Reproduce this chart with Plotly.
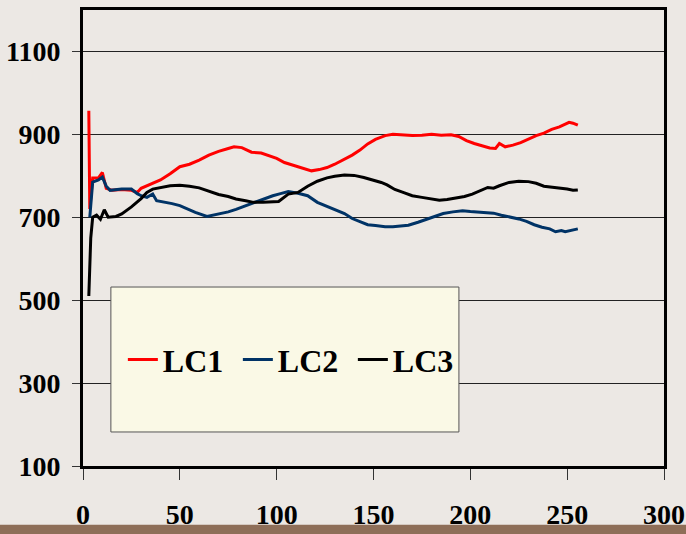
import plotly.graph_objects as go

# LC1 / LC2 / LC3 readings
lc1_x = [3, 3.5, 5, 8, 10, 12, 15, 20, 25, 28, 30, 35, 40, 45, 50, 55, 60, 65, 70, 75, 78, 82, 87, 92, 96, 100, 104, 108, 112, 118, 122, 126, 130, 135, 139, 143, 147, 151, 156, 160, 165, 170, 175, 180, 185, 190, 194, 198, 202, 206, 210, 213, 215, 218, 222, 226, 230, 234, 238, 242, 246, 249, 251, 253, 255.5]
lc1_y = [957, 720, 795, 795, 808, 770, 765, 767, 765, 760, 770, 780, 790, 805, 822, 828, 838, 850, 859, 866, 870, 868, 857, 855, 849, 842, 832, 826, 820, 812, 815, 820, 828, 840, 850, 862, 877, 888, 897, 900, 899, 897, 898, 900, 898, 899, 895, 885, 878, 872, 867, 866, 878, 870, 874, 880, 888, 897, 903, 912, 918, 925, 929, 927, 922]

lc2_x = [3.5, 5, 8, 10, 12, 14, 20, 25, 28, 30, 33, 36, 38, 42, 46, 50, 53, 58, 64, 70, 75, 79, 84, 88, 93, 98, 102, 106, 111, 116, 121, 126, 130, 135, 139, 143, 147, 151, 156, 160, 164, 168, 173, 178, 182, 186, 191, 196, 200, 204, 208, 212, 216, 220, 225, 229, 233, 237, 241, 244, 247, 249, 252, 255.5]
lc2_y = [700, 785, 790, 797, 775, 765, 768, 768, 757, 752, 748, 756, 740, 737, 733, 728, 722, 712, 702, 708, 713, 719, 728, 735, 744, 752, 757, 762, 758, 752, 736, 727, 719, 709, 697, 690, 682, 680, 677, 677, 679, 681, 688, 696, 704, 709, 713, 716, 714, 713, 712, 710, 705, 701, 696, 690, 682, 676, 672, 665, 668, 665, 669, 672]

lc3_x = [3, 4, 5, 7, 9, 11, 13, 17, 20, 25, 30, 33, 36, 40, 45, 50, 55, 60, 64, 70, 75, 79, 84, 88, 93, 97, 101, 106, 111, 116, 121, 126, 130, 135, 140, 145, 150, 154, 157, 161, 166, 170, 175, 180, 184, 188, 193, 197, 201, 205, 209, 212, 215, 220, 225, 230, 234, 238, 242, 246, 250, 253, 255.5]
lc3_y = [510, 650, 700, 705, 695, 718, 700, 702, 708, 725, 745, 760, 768, 772, 776, 777, 775, 771, 765, 755, 750, 744, 740, 736, 736, 737, 738, 756, 760, 775, 787, 795, 799, 802, 801, 796, 790, 784, 778, 767, 759, 752, 748, 744, 741, 743, 746, 750, 756, 764, 772, 770, 776, 784, 787, 786, 782, 775, 773, 770, 768, 765, 766]

y_ticks = [100, 300, 500, 700, 900, 1100]
x_ticks = [0, 50, 100, 150, 200, 250, 300]

BG = "#ECE8E4"
FONT = "Liberation Serif"

fig = go.Figure()
for name, xs, ys, col in [
    ("LC1", lc1_x, lc1_y, "#FF0000"),
    ("LC2", lc2_x, lc2_y, "#003366"),
    ("LC3", lc3_x, lc3_y, "#000000"),
]:
    fig.add_trace(go.Scatter(x=xs, y=ys, mode="lines", name=name,
                             line=dict(color=col, width=3)))

fig.update_layout(
    width=686, height=534,
    margin=dict(l=83, r=22, t=10, b=68, autoexpand=False),
    paper_bgcolor=BG, plot_bgcolor=BG,
    showlegend=True,
    legend=dict(
        orientation="h", x=0.0686, y=0.233, xanchor="left", yanchor="middle",
        bgcolor="rgba(0,0,0,0)", borderwidth=0,
        font=dict(family=FONT, size=32, color="black", weight="bold"),
        entrywidth=70, itemwidth=30,
    ),
    shapes=[
        # legend panel
        dict(type="rect", xref="paper", yref="paper",
             x0=0.048, x1=0.647, y0=0.0746, y1=0.3925,
             fillcolor="#FAF9E6", line=dict(color="#555555", width=1),
             layer="above"),
        # brown footer band
        dict(type="rect", xref="paper", yref="paper",
             x0=-0.2, x1=1.1, y0=-0.129, y1=-0.2,
             fillcolor="#8E6E58", line=dict(width=0), layer="below"),
    ],
)

fig.update_xaxes(
    range=[0, 300], tickvals=x_ticks, showgrid=False, zeroline=False,
    automargin=False,
    showline=True, linecolor="black", linewidth=3, mirror=True,
    ticks="outside", ticklen=11, tickcolor="#333333", tickwidth=1,
    ticklabelstandoff=10,
    tickfont=dict(family=FONT, size=28, color="black", weight="bold"),
)
fig.update_yaxes(
    range=[100, 1200], tickvals=y_ticks, showgrid=True,
    gridcolor="#222222", gridwidth=1, zeroline=False,
    automargin=False,
    showline=True, linecolor="black", linewidth=3, mirror=True,
    ticks="outside", ticklen=8, tickcolor="#333333", tickwidth=1,
    ticklabelstandoff=6,
    tickfont=dict(family=FONT, size=28, color="black", weight="bold"),
)

fig.write_html("out.html")
